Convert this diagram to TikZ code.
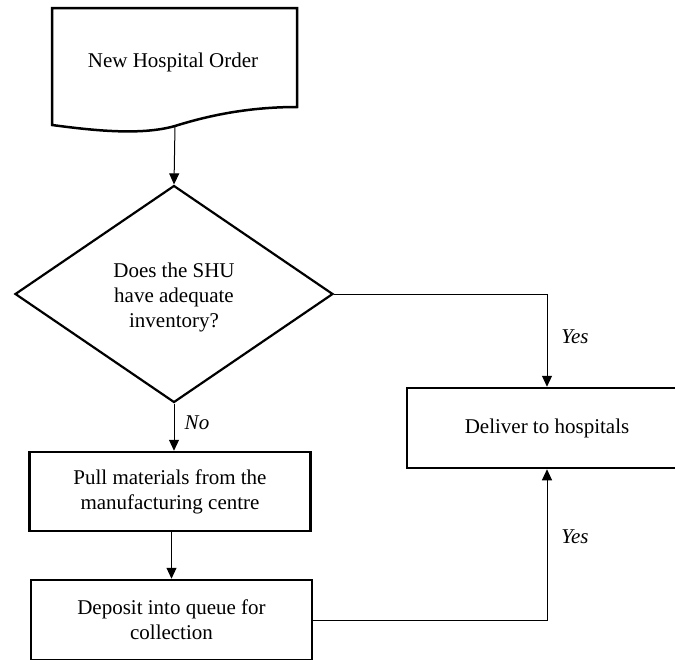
\documentclass[tikz,border=0pt]{standalone}
\usepackage{fontspec}
\setmainfont{Liberation Serif}
\usetikzlibrary{shapes.geometric,arrows.meta}
\tikzset{
  boxline/.style={draw=black,line width=2.5pt},
  procbox/.style={boxline,rectangle,minimum width=281pt,minimum height=79pt,inner sep=0pt,align=center,font=\fontsize{21}{25}\selectfont},
  decision/.style={boxline,line width=2.2pt,diamond,minimum width=318pt,minimum height=217pt,inner sep=0pt,align=center,font=\fontsize{21}{25}\selectfont},
  conn/.style={draw=black,line width=1pt,-{Triangle[length=11pt,width=10pt]}},
  lbl/.style={font=\fontsize{21}{25}\selectfont\itshape,inner sep=0pt}
}
\begin{document}
\begin{tikzpicture}[x=1pt,y=-1pt]
\useasboundingbox (0,0) rectangle (675,659);
\clip (0,0) rectangle (675,659);
% document shape
\draw[boxline,line join=miter] (52,8) -- (297,8) -- (297,107)
  .. controls (250,107) and (210,115) .. (175,126)
  .. controls (140,136) and (90,130) .. (52,125) -- cycle;
\node[inner sep=0pt,font=\fontsize{21}{25}\selectfont] (doc) at (173,62) {New Hospital Order};
\coordinate (docb) at (175,126);
% decision
\node[decision] (dia) at (174,294) {};
\node[inner sep=0pt,align=center,font=\fontsize{21}{25}\selectfont] (diatext) at (174,297) {Does the SHU\\have adequate\\inventory?};
% boxes
\node[procbox] (pull) at (170,491.5) {Pull materials from the\\manufacturing centre};
\node[procbox,minimum height=80pt] (deposit) at (171.5,620) {Deposit into queue for\\collection};
\node[procbox,minimum width=280pt,minimum height=80pt] (deliver) at (547,428) {Deliver to hospitals};
% connectors
\draw[conn] (docb) -- (dia.north);
\draw[conn] (dia.east) -| (deliver.north);
\draw[conn] (dia.south) -- (dia.south |- pull.north);
\draw[conn] (pull.south -| deposit.north) -- (deposit.north);
\draw[conn] (deposit.east) -| (deliver.south);
% labels
\node[lbl] (no) at (197,423) {No};
\node[lbl] (yes1) at (575,337) {Yes};
\node[lbl] (yes2) at (575,537) {Yes};
\end{tikzpicture}
\end{document}
